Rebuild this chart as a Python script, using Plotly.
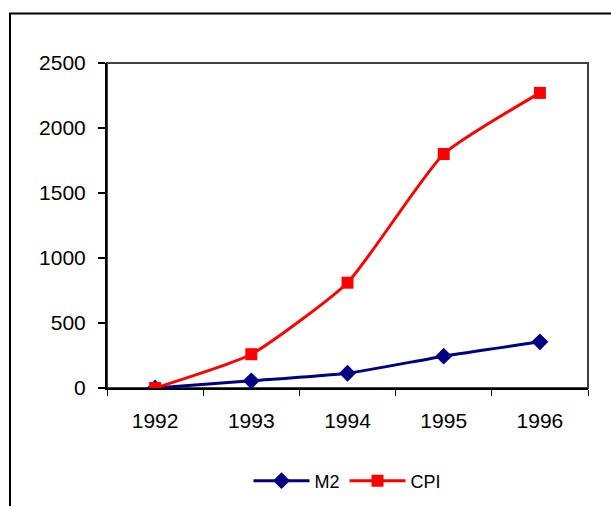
import plotly.graph_objects as go

years = ["1992", "1993", "1994", "1995", "1996"]
m2 = [0, 55, 113, 245, 355]
cpi = [0, 260, 810, 1800, 2270]
y_ticks = [0, 500, 1000, 1500, 2000, 2500]

FONT = "Liberation Sans, Arial, sans-serif"

fig = go.Figure()
fig.add_trace(go.Scatter(
    x=years, y=m2, name="M2", mode="lines+markers",
    line=dict(color="#000080", width=3, shape="spline", smoothing=0.5),
    marker=dict(symbol="diamond", size=13, color="#000080"),
))
fig.add_trace(go.Scatter(
    x=years, y=cpi, name="CPI", mode="lines+markers",
    line=dict(color="#FF0000", width=3, shape="spline", smoothing=0.5),
    marker=dict(symbol="square", size=12, color="#FF0000"),
))

# Outer chart frame, running off the right and bottom edges
fig.add_shape(type="rect", xref="paper", yref="paper",
              x0=-0.2017, x1=1.3, y0=-0.6, y1=1.1523,
              line=dict(color="black", width=2), layer="below")
# Plot-area border (top/right in dark grey)
fig.add_shape(type="rect", xref="paper", yref="paper",
              x0=0, x1=1, y0=0, y1=1,
              line=dict(color="#404040", width=2), layer="below")

fig.update_layout(
    width=611, height=506,
    margin=dict(l=107, r=23, t=63, b=118, autoexpand=False),
    paper_bgcolor="white", plot_bgcolor="white",
    font=dict(family=FONT, size=21, color="black"),
    showlegend=True,
    legend=dict(orientation="h", x=0.5, xanchor="center",
                y=-0.286, yanchor="middle", itemwidth=56,
                font=dict(size=18), bgcolor="rgba(0,0,0,0)",
                tracegroupgap=0),
    xaxis=dict(
        type="category", range=[-0.5, 4.5], automargin=False,
        showgrid=False, zeroline=False,
        showline=True, linecolor="black", linewidth=2,
        ticks="outside", ticklen=6, tickwidth=1, tickcolor="black",
        tickson="boundaries", ticklabelstandoff=13,
    ),
    yaxis=dict(
        range=[0, 2500], tickvals=y_ticks, automargin=False,
        showgrid=False, zeroline=False,
        showline=True, linecolor="black", linewidth=2,
        ticks="outside", ticklen=7, tickwidth=2, tickcolor="black",
        ticklabelstandoff=8,
    ),
)

fig.write_html("out.html")
